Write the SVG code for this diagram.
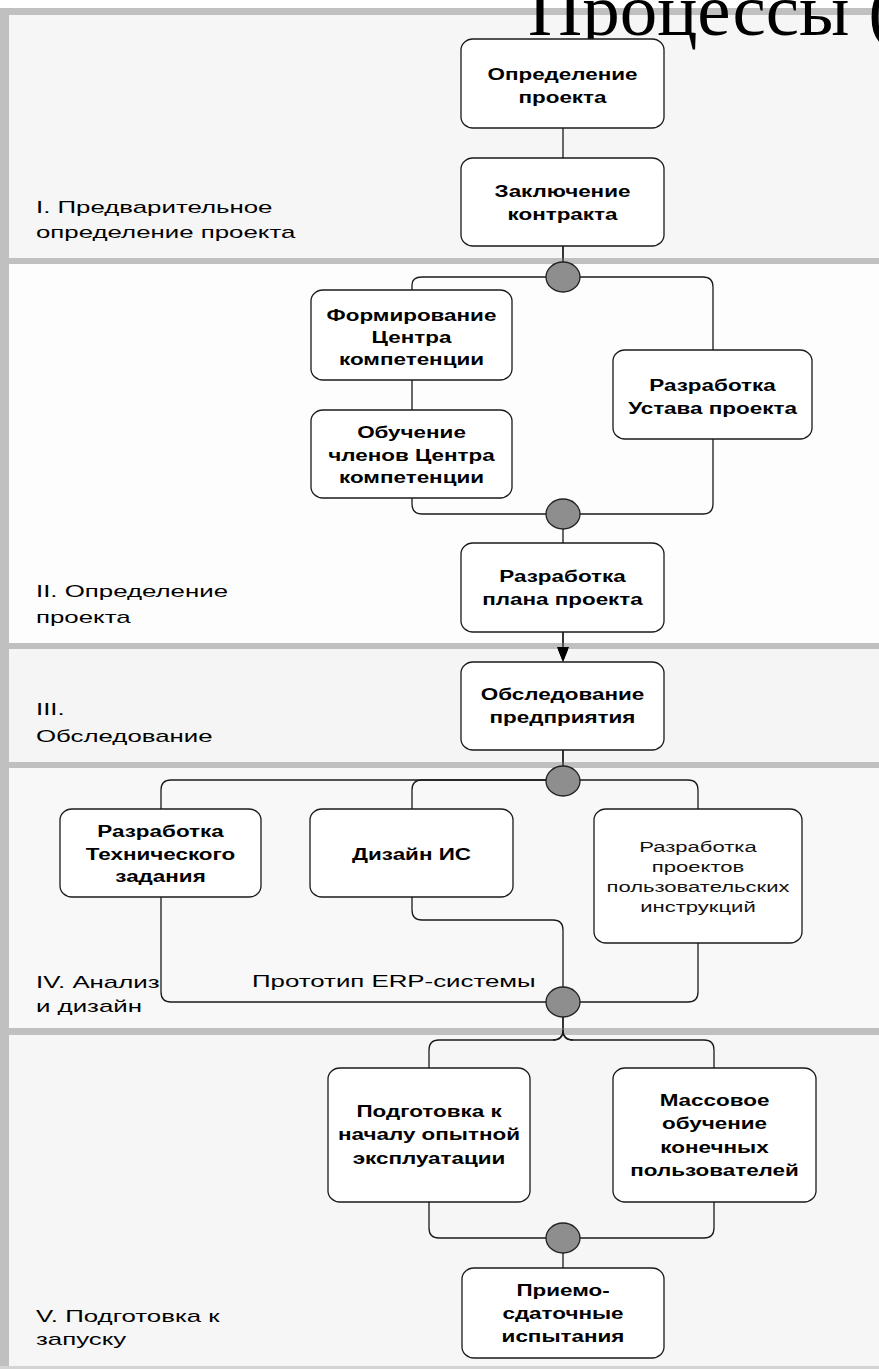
<svg xmlns="http://www.w3.org/2000/svg" width="879" height="1369" viewBox="0 0 879 1369">
<style>
.node rect{fill:#ffffff;stroke:#1a1a1a;stroke-width:1.3}
.nt{font-family:"Liberation Sans",Arial,sans-serif;font-weight:bold;font-size:17px;fill:#000;text-anchor:middle}
.st{font-family:"Liberation Sans",Arial,sans-serif;font-size:14.5px;fill:#111;text-anchor:middle}
.lane{font-family:"Liberation Sans",Arial,sans-serif;font-size:17px;fill:#000}
.sep{fill:#c0c0c0}
.conn path,.conn line{fill:none;stroke:#1a1a1a;stroke-width:1.3}
.sync{fill:#8e8e8e;stroke:#222;stroke-width:1.3}
</style>
<rect x="0" y="0" width="879" height="1369" fill="#ffffff"/>
<!-- lanes -->
<g id="lanes">
<rect x="0" y="8" width="879" height="1361" fill="#c0c0c0"/>
<rect x="9" y="15" width="870" height="243" fill="#f6f6f6"/>
<rect x="9" y="264" width="870" height="379" fill="#fdfdfd"/>
<rect x="9" y="649" width="870" height="113" fill="#f5f5f5"/>
<rect x="9" y="768" width="870" height="260" fill="#f8f8f8"/>
<rect x="9" y="1035" width="870" height="331" fill="#f6f6f6"/>
<rect x="0" y="1366" width="879" height="3" fill="#d4d4d4"/>
</g>
<!-- title -->
<text x="528" y="35" font-family="'Liberation Serif','Times New Roman',serif" font-size="75" fill="#000">Процессы (</text>
<!-- lane labels -->
<g id="lane-labels" class="lane">
<text transform="translate(36,213) scale(1.52,1)">I. Предварительное</text>
<text transform="translate(36,238) scale(1.52,1)">определение проекта</text>
<text transform="translate(36,597) scale(1.52,1)">II. Определение</text>
<text transform="translate(36,623) scale(1.52,1)">проекта</text>
<text transform="translate(36,715) scale(1.52,1)">III.</text>
<text transform="translate(36,742) scale(1.52,1)">Обследование</text>
<text transform="translate(36,988) scale(1.52,1)">IV. Анализ</text>
<text transform="translate(36,1012) scale(1.52,1)">и дизайн</text>
<text transform="translate(36,1322) scale(1.52,1)">V. Подготовка к</text>
<text transform="translate(36,1345) scale(1.52,1)">запуску</text>
</g>
<!-- connectors -->
<g id="connectors" class="conn">
<line x1="563" y1="128" x2="563" y2="158"/>
<line x1="563" y1="246" x2="563" y2="262"/>
<path d="M563 277 H422 Q412 277 412 285 V290"/>
<path d="M563 277 H703 Q713 277 713 287 V350"/>
<line x1="412" y1="380" x2="412" y2="410"/>
<path d="M412 498 V504 Q412 514 422 514 H563"/>
<path d="M713 439 V504 Q713 514 703 514 H563"/>
<line x1="563" y1="529" x2="563" y2="543"/>
<line x1="563" y1="632" x2="563" y2="648"/>
<polygon points="557,647 569,647 563,662" fill="#000" stroke="none"/>
<line x1="563" y1="750" x2="563" y2="766"/>
<path d="M563 780 H171 Q161 780 161 790 V809"/>
<path d="M563 780 H422 Q412 780 412 790 V809"/>
<path d="M563 780 H688 Q698 780 698 790 V809"/>
<path d="M161 897 V992 Q161 1002 171 1002 H563"/>
<path d="M412 897 V910 Q412 920 422 920 H553 Q563 920 563 930 V1002"/>
<path d="M698 943 V992 Q698 1002 688 1002 H563"/>
<line x1="563" y1="1016" x2="563" y2="1030"/>
<path d="M563 1030 Q563 1040 553 1040 H439 Q429 1040 429 1050 V1068"/>
<path d="M563 1030 Q563 1040 573 1040 H704 Q714 1040 714 1050 V1068"/>
<path d="M429 1202 V1228 Q429 1238 439 1238 H563"/>
<path d="M714 1202 V1228 Q714 1238 704 1238 H563"/>
<line x1="563" y1="1252" x2="563" y2="1268"/>
</g>
<!-- separators -->
<g id="separators">
<rect class="sep" x="9" y="258" width="870" height="6"/>
<rect class="sep" x="9" y="643" width="870" height="6"/>
<rect class="sep" x="9" y="762" width="870" height="6"/>
<rect class="sep" x="9" y="1028" width="870" height="7"/>
</g>
<!-- re-draw connector segments crossing separators -->
<g id="connectors-over" class="conn">
<line x1="563" y1="246" x2="563" y2="265"/>
<line x1="563" y1="632" x2="563" y2="650"/>
<polygon points="557,647 569,647 563,662" fill="#000" stroke="none"/>
<line x1="563" y1="750" x2="563" y2="768"/>
<path d="M563 1016 V1030 Q563 1040 553 1040"/>
<path d="M563 1030 Q563 1040 573 1040"/>
</g>
<!-- sync bars -->
<g id="sync1"><ellipse class="sync" cx="563" cy="277" rx="17" ry="15"/></g>
<g id="sync2"><ellipse class="sync" cx="563" cy="514" rx="17" ry="15"/></g>
<g id="sync3"><ellipse class="sync" cx="563" cy="781" rx="17" ry="15"/></g>
<g id="sync4"><ellipse class="sync" cx="563" cy="1002" rx="17" ry="15"/></g>
<g id="sync5"><ellipse class="sync" cx="563" cy="1238" rx="17" ry="15"/></g>
<!-- nodes -->
<g id="n1" class="node"><rect x="461" y="39" width="203" height="89" rx="12" ry="11"/>
<text class="nt" transform="translate(562.5,80) scale(1.32,1)">Определение</text>
<text class="nt" transform="translate(562.5,103) scale(1.32,1)">проекта</text></g>
<g id="n2" class="node"><rect x="461" y="158" width="203" height="88" rx="12" ry="11"/>
<text class="nt" transform="translate(562.5,197) scale(1.32,1)">Заключение</text>
<text class="nt" transform="translate(562.5,220) scale(1.32,1)">контракта</text></g>
<g id="n3" class="node"><rect x="311" y="290" width="201" height="90" rx="12" ry="11"/>
<text class="nt" transform="translate(411.5,321) scale(1.32,1)">Формирование</text>
<text class="nt" transform="translate(411.5,343) scale(1.32,1)">Центра</text>
<text class="nt" transform="translate(411.5,365) scale(1.32,1)">компетенции</text></g>
<g id="n4" class="node"><rect x="311" y="410" width="201" height="88" rx="12" ry="11"/>
<text class="nt" transform="translate(411.5,438) scale(1.32,1)">Обучение</text>
<text class="nt" transform="translate(411.5,461) scale(1.32,1)">членов Центра</text>
<text class="nt" transform="translate(411.5,483) scale(1.32,1)">компетенции</text></g>
<g id="n5" class="node"><rect x="613" y="350" width="199" height="89" rx="12" ry="11"/>
<text class="nt" transform="translate(712.5,391) scale(1.32,1)">Разработка</text>
<text class="nt" transform="translate(712.5,414) scale(1.32,1)">Устава проекта</text></g>
<g id="n6" class="node"><rect x="461" y="543" width="203" height="89" rx="12" ry="11"/>
<text class="nt" transform="translate(562.5,582) scale(1.32,1)">Разработка</text>
<text class="nt" transform="translate(562.5,605) scale(1.32,1)">плана проекта</text></g>
<g id="n7" class="node"><rect x="461" y="662" width="203" height="88" rx="12" ry="11"/>
<text class="nt" transform="translate(562.5,700) scale(1.32,1)">Обследование</text>
<text class="nt" transform="translate(562.5,723) scale(1.32,1)">предприятия</text></g>
<g id="n8" class="node"><rect x="60" y="809" width="201" height="88" rx="12" ry="11"/>
<text class="nt" transform="translate(160.5,837) scale(1.32,1)">Разработка</text>
<text class="nt" transform="translate(160.5,860) scale(1.32,1)">Технического</text>
<text class="nt" transform="translate(160.5,882) scale(1.32,1)">задания</text></g>
<g id="n9" class="node"><rect x="310" y="809" width="203" height="88" rx="12" ry="11"/>
<text class="nt" transform="translate(411.5,860) scale(1.32,1)">Дизайн ИС</text></g>
<g id="n10" class="node"><rect x="594" y="809" width="208" height="134" rx="12" ry="11"/>
<text class="st" transform="translate(698,852) scale(1.52,1)">Разработка</text>
<text class="st" transform="translate(698,872) scale(1.52,1)">проектов</text>
<text class="st" transform="translate(698,892) scale(1.52,1)">пользовательских</text>
<text class="st" transform="translate(698,912) scale(1.52,1)">инструкций</text></g>
<g id="n11" class="node"><rect x="328" y="1068" width="202" height="134" rx="12" ry="11"/>
<text class="nt" transform="translate(429,1117) scale(1.32,1)">Подготовка к</text>
<text class="nt" transform="translate(429,1140) scale(1.32,1)">началу опытной</text>
<text class="nt" transform="translate(429,1164) scale(1.32,1)">эксплуатации</text></g>
<g id="n12" class="node"><rect x="613" y="1068" width="203" height="134" rx="12" ry="11"/>
<text class="nt" transform="translate(714.5,1106) scale(1.32,1)">Массовое</text>
<text class="nt" transform="translate(714.5,1129) scale(1.32,1)">обучение</text>
<text class="nt" transform="translate(714.5,1153) scale(1.32,1)">конечных</text>
<text class="nt" transform="translate(714.5,1176) scale(1.32,1)">пользователей</text></g>
<g id="n13" class="node"><rect x="462" y="1268" width="202" height="90" rx="12" ry="11"/>
<text class="nt" transform="translate(563,1296) scale(1.32,1)">Приемо-</text>
<text class="nt" transform="translate(563,1319) scale(1.32,1)">сдаточные</text>
<text class="nt" transform="translate(563,1342) scale(1.32,1)">испытания</text></g>
<!-- connector label -->
<text class="lane" transform="translate(252,987) scale(1.52,1)">Прототип ERP-системы</text>
</svg>
